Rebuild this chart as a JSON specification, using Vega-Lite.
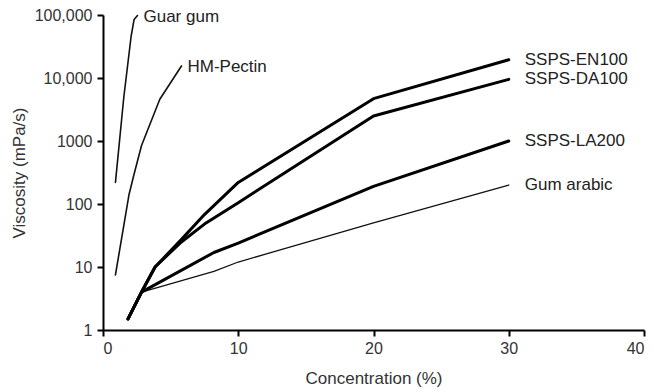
{
  "$schema": "https://vega.github.io/schema/vega-lite/v6.json",
  "width": 541,
  "height": 315,
  "autosize": "none",
  "padding": {"left": 103, "top": 15, "right": 11, "bottom": 61},
  "background": "white",
  "config": {
    "view": {"stroke": null},
    "font": "Liberation Sans",
    "axis": {
      "domainColor": "black",
      "domainWidth": 2,
      "tickColor": "black",
      "tickWidth": 2,
      "tickSize": 6,
      "grid": false,
      "labelFont": "Liberation Sans",
      "labelFontSize": 16,
      "labelColor": "#333",
      "titleFont": "Liberation Sans",
      "titleFontSize": 17,
      "titleFontWeight": "normal",
      "titleColor": "#333"
    }
  },
  "datasets": {
    "curves": [
      {"series": "Guar gum", "x": 0.92, "y": 220},
      {"series": "Guar gum", "x": 1.54, "y": 5000},
      {"series": "Guar gum", "x": 2.08, "y": 46000},
      {"series": "Guar gum", "x": 2.3, "y": 85000},
      {"series": "Guar gum", "x": 2.55, "y": 98000},
      {"series": "HM-Pectin", "x": 0.92, "y": 7.5},
      {"series": "HM-Pectin", "x": 1.92, "y": 140},
      {"series": "HM-Pectin", "x": 2.3, "y": 300},
      {"series": "HM-Pectin", "x": 2.85, "y": 850},
      {"series": "HM-Pectin", "x": 4.2, "y": 4600},
      {"series": "HM-Pectin", "x": 5.8, "y": 15500},
      {"series": "SSPS-EN100", "x": 1.85, "y": 1.5},
      {"series": "SSPS-EN100", "x": 2.85, "y": 4},
      {"series": "SSPS-EN100", "x": 3.85, "y": 10},
      {"series": "SSPS-EN100", "x": 5.7, "y": 26},
      {"series": "SSPS-EN100", "x": 7.5, "y": 68},
      {"series": "SSPS-EN100", "x": 10, "y": 220},
      {"series": "SSPS-EN100", "x": 20, "y": 4700},
      {"series": "SSPS-EN100", "x": 30, "y": 19500},
      {"series": "SSPS-DA100", "x": 1.85, "y": 1.5},
      {"series": "SSPS-DA100", "x": 2.85, "y": 4},
      {"series": "SSPS-DA100", "x": 3.85, "y": 10},
      {"series": "SSPS-DA100", "x": 5.7, "y": 24},
      {"series": "SSPS-DA100", "x": 7.5, "y": 48},
      {"series": "SSPS-DA100", "x": 10, "y": 105},
      {"series": "SSPS-DA100", "x": 20, "y": 2500},
      {"series": "SSPS-DA100", "x": 30, "y": 9500},
      {"series": "SSPS-LA200", "x": 1.85, "y": 1.5},
      {"series": "SSPS-LA200", "x": 2.85, "y": 4},
      {"series": "SSPS-LA200", "x": 8.2, "y": 17},
      {"series": "SSPS-LA200", "x": 10, "y": 24},
      {"series": "SSPS-LA200", "x": 20, "y": 190},
      {"series": "SSPS-LA200", "x": 30, "y": 1000},
      {"series": "Gum arabic", "x": 1.85, "y": 1.5},
      {"series": "Gum arabic", "x": 2.85, "y": 4},
      {"series": "Gum arabic", "x": 8.2, "y": 8.5},
      {"series": "Gum arabic", "x": 10, "y": 12},
      {"series": "Gum arabic", "x": 20, "y": 50},
      {"series": "Gum arabic", "x": 30, "y": 200}
    ],
    "leftLabels": [
      {"series": "Guar gum", "x": 2.55, "y": 98000},
      {"series": "HM-Pectin", "x": 5.8, "y": 15500}
    ],
    "rightLabels": [
      {"series": "SSPS-EN100", "x": 30, "y": 19500},
      {"series": "SSPS-DA100", "x": 30, "y": 9500},
      {"series": "SSPS-LA200", "x": 30, "y": 1000},
      {"series": "Gum arabic", "x": 30, "y": 200}
    ]
  },
  "encoding": {
    "x": {
      "field": "x", "type": "quantitative",
      "scale": {"domain": [0, 40], "nice": false, "zero": false},
      "axis": {"values": [0, 10, 20, 30, 40], "title": "Concentration (%)", "labelPadding": 4, "titlePadding": 14}
    },
    "y": {
      "field": "y", "type": "quantitative",
      "scale": {"type": "log", "domain": [1, 100000], "nice": false},
      "axis": {
        "values": [1, 10, 100, 1000, 10000, 100000],
        "labelExpr": "datum.value >= 10000 ? format(datum.value, ',') : format(datum.value, 'd')",
        "title": "Viscosity (mPa/s)",
        "labelPadding": 5,
        "titlePadding": 6
      }
    }
  },
  "layer": [
    {
      "data": {"name": "curves"},
      "transform": [{"filter": "datum.series === 'Guar gum' || datum.series === 'HM-Pectin'"}],
      "mark": {"type": "line", "color": "#111", "strokeWidth": 1.6, "strokeJoin": "round", "strokeCap": "round"},
      "encoding": {"detail": {"field": "series"}}
    },
    {
      "data": {"name": "curves"},
      "transform": [{"filter": "datum.series === 'Gum arabic'"}],
      "mark": {"type": "line", "color": "#111", "strokeWidth": 1.3, "strokeJoin": "round", "strokeCap": "round"},
      "encoding": {"detail": {"field": "series"}}
    },
    {
      "data": {"name": "curves"},
      "transform": [{"filter": "indexof(datum.series, 'SSPS') === 0"}],
      "mark": {"type": "line", "color": "black", "strokeWidth": 3, "strokeJoin": "round", "strokeCap": "round"},
      "encoding": {"detail": {"field": "series"}}
    },
    {
      "data": {"name": "leftLabels"},
      "mark": {"type": "text", "align": "left", "baseline": "middle", "dx": 6, "dy": 1, "fontSize": 17, "color": "#222", "font": "Liberation Sans"},
      "encoding": {"text": {"field": "series"}}
    },
    {
      "data": {"name": "rightLabels"},
      "mark": {"type": "text", "align": "left", "baseline": "middle", "dx": 16, "fontSize": 17, "color": "#222", "font": "Liberation Sans"},
      "encoding": {"text": {"field": "series"}}
    }
  ]
}
